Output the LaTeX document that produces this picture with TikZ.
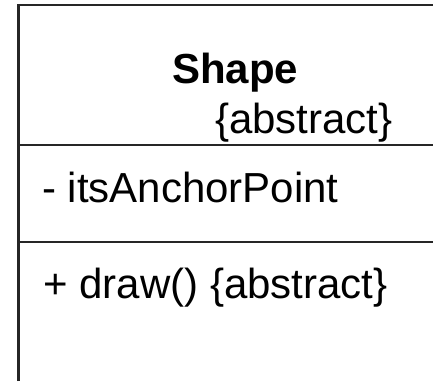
\documentclass[tikz,border=0pt]{standalone}
\usepackage{fontspec}
\setmainfont{Liberation Sans}
\begin{document}
\begin{tikzpicture}[x=1pt,y=-1pt,
  frame/.style={draw=black!85,line width=2.6pt},
  umltext/.style={inner sep=0pt,anchor=base west,font=\fontsize{42}{48}\selectfont}]
\useasboundingbox (0,0) rectangle (433,381);
% class outline (open to the right and bottom)
\coordinate (tl) at (18.5,5);
\coordinate (tr) at (433,5);
\coordinate (bl) at (18.5,381);
\coordinate (d1l) at (18.5,145);
\coordinate (d1r) at (433,145);
\coordinate (d2l) at (18.5,242);
\coordinate (d2r) at (433,242);
\draw[frame] (bl) -- (tl) -- (tr);
\draw[frame] (d1l) -- (d1r);
\draw[frame] (d2l) -- (d2r);
% class name
\node[umltext,font=\fontsize{42}{48}\selectfont\bfseries] (name) at (172,83) {Shape};
\node[umltext] (stereo) at (215,133) {\{abstract\}};
% attribute
\node[umltext] (attr) at (42,202) {- itsAnchorPoint};
% operation
\node[umltext] (op) at (43,298) {+ draw() \{abstract\}};
\end{tikzpicture}
\end{document}
